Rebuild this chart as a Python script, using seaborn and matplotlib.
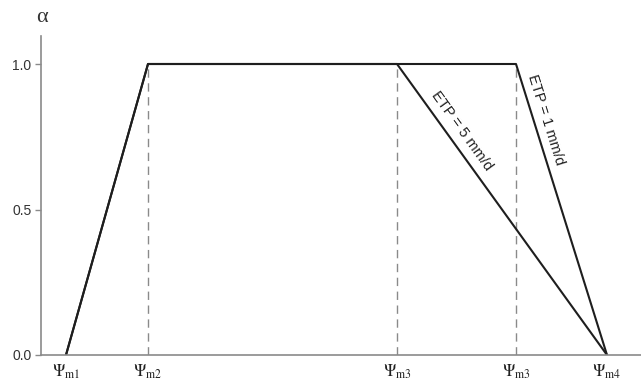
import numpy as np
import pandas as pd
import matplotlib
matplotlib.use("Agg")
import matplotlib.pyplot as plt
import seaborn as sns

# Characteristic suction heads (arbitrary units along the x axis)
psi_positions = [25, 107, 356, 475, 566]
psi_labels = [r"$\Psi_{\rm m1}$", r"$\Psi_{\rm m2}$", r"$\Psi_{\rm m3}$",
              r"$\Psi_{\rm m3}$", r"$\Psi_{\rm m4}$"]

# Reduction factor alpha for the two evaporation demands
etp5_x = [25, 107, 356, 566]
etp5_y = [0.0, 1.0, 1.0, 0.0]
etp1_x = [25, 107, 475, 566]
etp1_y = [0.0, 1.0, 1.0, 0.0]

# Vertical guide lines (dashed)
guide_x = [107, 356, 475]

y_ticks = [0.0, 0.5, 1.0]
y_ticklabels = ["0.0", "0.5", "1.0"]

sns.set_style("white")
plt.rcParams["font.family"] = ["Liberation Sans", "DejaVu Sans"]
plt.rcParams["mathtext.fontset"] = "stix"

fig = plt.figure(figsize=(6.41, 3.82), dpi=100)
ax = fig.add_axes([41 / 641, 27 / 382, 1 - 41 / 641, (355 - 36) / 382])

df = pd.concat([
    pd.DataFrame({"psi": etp5_x, "alpha": etp5_y, "ETP": "5"}),
    pd.DataFrame({"psi": etp1_x, "alpha": etp1_y, "ETP": "1"}),
])
sns.lineplot(data=df, x="psi", y="alpha", units="ETP", estimator=None,
             sort=False, color="#1e1e1e", linewidth=1.5, ax=ax, legend=False)

for gx in guide_x:
    ax.plot([gx, gx], [0, 1], color="#8a8a8a", linewidth=1.0,
            linestyle=(0, (6, 4)), zorder=1)

ax.set_xlim(0, 600)
ax.set_ylim(0, (355 - 36) / 291)

ax.set_xticks([])
ax.set_yticks(y_ticks)
ax.set_yticklabels(y_ticklabels, fontsize=10, color="#333333")
ax.tick_params(axis="y", which="major", left=True, length=4, width=1,
               color="#8a8a8a", pad=3)
ax.set_xlabel("")
ax.set_ylabel("")

for side in ("top", "right"):
    ax.spines[side].set_visible(False)
for side in ("left", "bottom"):
    ax.spines[side].set_color("#8a8a8a")
    ax.spines[side].set_linewidth(1.2)

# Psi labels under the axis
for px, lab in zip(psi_positions, psi_labels):
    ax.text(px, -0.025, lab, ha="center", va="top", fontsize=12,
            color="#222222", transform=ax.transData, clip_on=False)

# Alpha axis title (upright serif glyph)
fig.text(42 / 641, 1 - 17 / 382, "α", ha="center", va="center",
         fontsize=16, color="#333333", family=["Liberation Serif", "DejaVu Serif"])


def angle_of(x0, y0, x1, y1):
    p0 = ax.transData.transform((x0, y0))
    p1 = ax.transData.transform((x1, y1))
    return np.degrees(np.arctan2(p1[1] - p0[1], p1[0] - p0[0]))


fig.canvas.draw()
a5 = angle_of(356, 1.0, 566, 0.0)
a1 = angle_of(475, 1.0, 566, 0.0)

ax.text(421, 0.77, "ETP = 5 mm/d", rotation=a5, rotation_mode="anchor",
        ha="center", va="center", fontsize=10.5, color="#222222")
ax.text(505, 0.81, "ETP = 1 mm/d", rotation=a1, rotation_mode="anchor",
        ha="center", va="center", fontsize=10.5, color="#222222")

fig.savefig("out.png", dpi=100)
